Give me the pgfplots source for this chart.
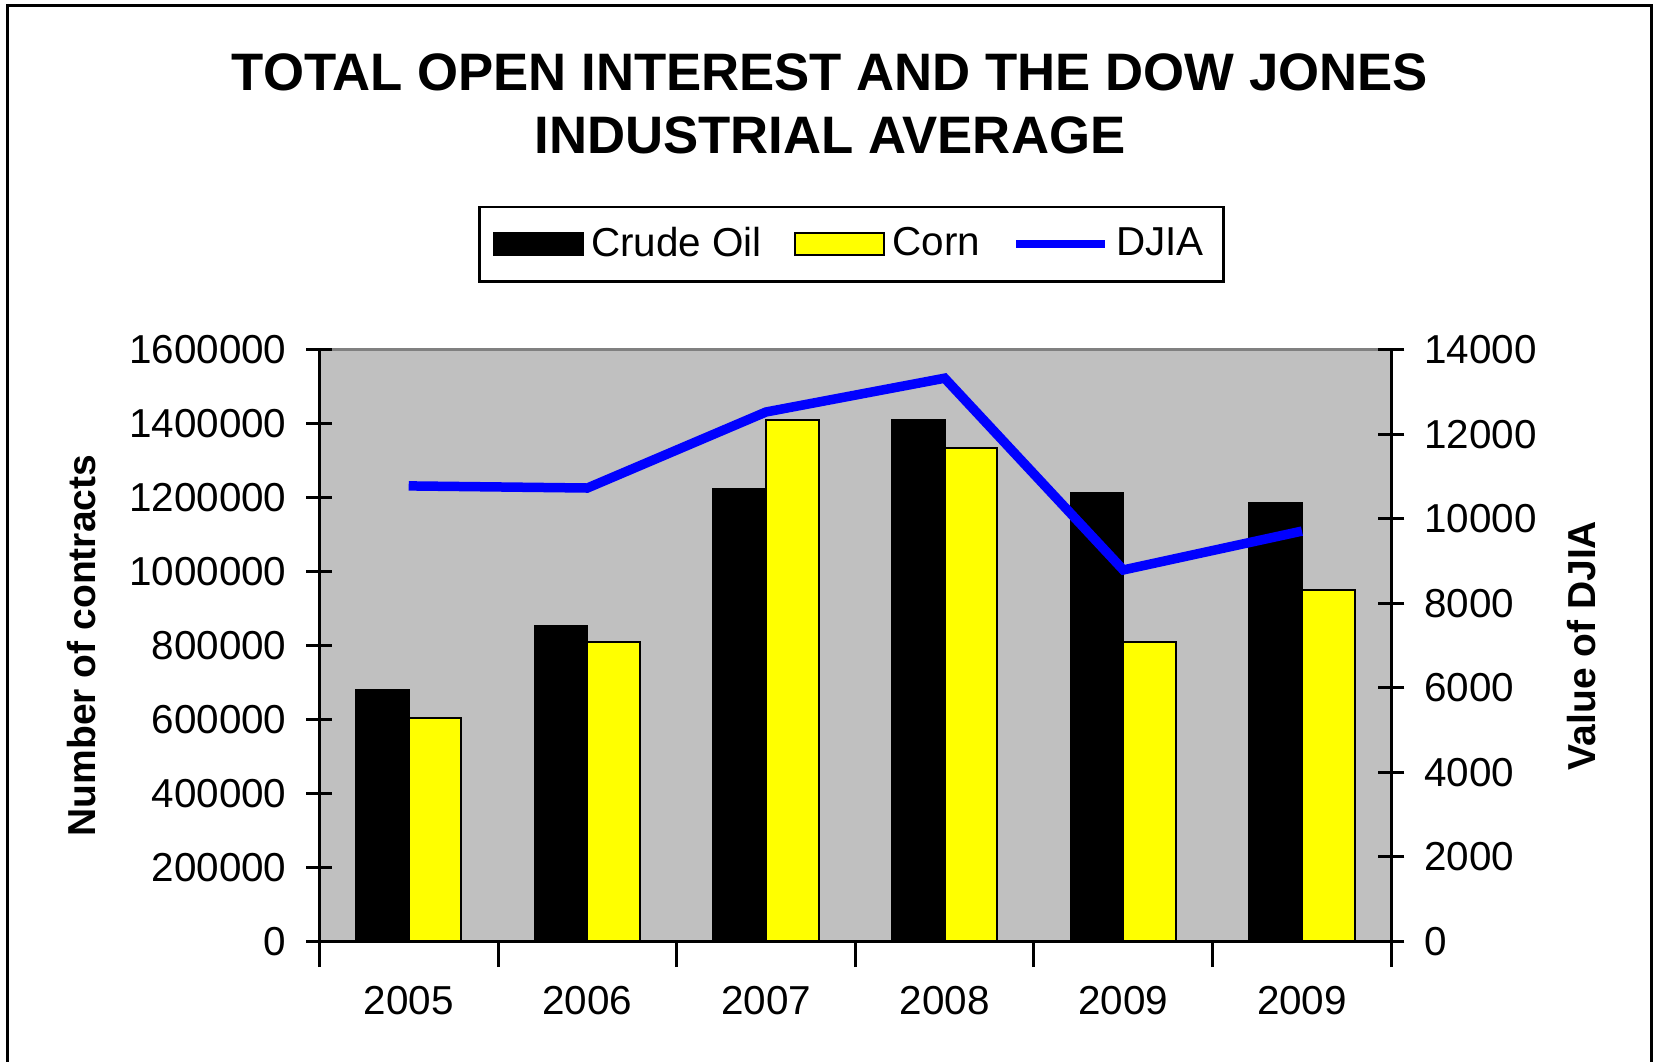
\documentclass[border=0pt]{standalone}
\usepackage{fontspec}
\setmainfont{Liberation Sans}
\usepackage{pgfplots}
\pgfplotsset{compat=1.18}
\definecolor{xlsilver}{HTML}{C0C0C0}
\definecolor{xlgray}{HTML}{808080}
\definecolor{xlyellow}{HTML}{FFFF00}
\definecolor{xlblue}{HTML}{0000FF}

\pgfplotsset{
  widebar/.style={legend image code/.code={%
    \draw[##1,line width=0.25mm] (0mm,-1.1mm) rectangle (8.9mm,1.1mm);}},
  wideline/.style={legend image code/.code={%
    \draw[##1] (0mm,0mm) -- (8.9mm,0mm);}},
  chartbase/.style={
    width=107.19mm, height=59.13mm, scale only axis,
    at={(31.94mm,11.98mm)}, anchor=south west,
    xmin=-0.5, xmax=5.5,
    scaled y ticks=false,
    tick align=center,
    major tick length=2.6mm, minor tick length=2.6mm,
    tick style={black, line width=0.3mm},
    tick label style={font=\fontsize{11.5}{13}\selectfont},
    label style={font=\fontsize{11.1}{13}\selectfont\bfseries},
    axis line style={-, black, line width=0.3mm},
  },
}

\begin{document}
\begin{tikzpicture}
\useasboundingbox (0,0) rectangle (165.3mm,106.1mm);
% outer frame (bottom edge lies outside the picture)
\draw[line width=0.3mm] (0.75mm,-2mm) -- (0.75mm,105.6mm) -- (165.1mm,105.6mm) -- (165.1mm,-2mm);

\begin{axis}[chartbase,
  axis x line*=bottom, axis y line*=left,
  axis background/.style={fill=xlsilver, draw=xlgray, line width=0.3mm},
  ymin=0, ymax=1600000,
  ytick={0,200000,400000,600000,800000,1000000,1200000,1400000,1600000},
  yticklabels={0,200000,400000,600000,800000,1000000,1200000,1400000,1600000},
  yticklabel style={xshift=-0.75mm},
  xtick={0,1,2,3,4,5},
  xticklabels={2005,2006,2007,2008,2009,2009},
  major x tick style={draw=none},
  minor xtick={-0.5,0.5,1.5,2.5,3.5,4.5,5.5},
  xticklabel style={yshift=-0.7mm},
  ylabel={Number of contracts},
  ylabel style={at={(axis description cs:-0.2221,0.5)}, anchor=center},
  ybar=0pt, bar width=0.295,
  title={TOTAL OPEN INTEREST AND THE DOW JONES\\INDUSTRIAL AVERAGE},
  title style={at={(axis description cs:0.4763,1.381)}, anchor=center,
    align=center, font=\fontsize{15}{18}\selectfont\bfseries},
  legend columns=-1,
  legend cell align=left,
  legend style={at={(axis description cs:0.4966,1.179)}, anchor=center,
    draw=black, line width=0.25mm, font=\fontsize{11.5}{13}\selectfont,
    inner xsep=1.3mm, inner ysep=1.3mm,
    /tikz/every even column/.append style={column sep=2.5mm}},
]
% Crude Oil
\addplot[widebar, fill=black, draw=black, line width=0.2mm] coordinates {
  (0,680000) (1,853000) (2,1223000) (3,1409000) (4,1212000) (5,1187000)};
\addlegendentry{Crude Oil}
% Corn
\addplot[widebar, fill=xlyellow, draw=black, line width=0.2mm] coordinates {
  (0,605000) (1,810000) (2,1409000) (3,1335000) (4,810000) (5,950000)};
\addlegendentry{Corn}
\addlegendimage{wideline, xlblue, line width=0.8mm}
\addlegendentry{DJIA}
\end{axis}

\begin{axis}[chartbase,
  axis x line=none, axis y line*=right,
  ymin=0, ymax=14000,
  ytick={0,2000,4000,6000,8000,10000,12000,14000},
  yticklabels={0,2000,4000,6000,8000,10000,12000,14000},
  yticklabel style={xshift=0.75mm},
  ylabel={Value of DJIA},
  ylabel style={at={(axis description cs:1.1773,0.5)}, anchor=center},
]
% DJIA
\addplot[xlblue, line width=0.95mm, mark=none] coordinates {
  (0,10780) (1,10730) (2,12530) (3,13330) (4,8790) (5,9710)};
\end{axis}
\end{tikzpicture}
\end{document}
